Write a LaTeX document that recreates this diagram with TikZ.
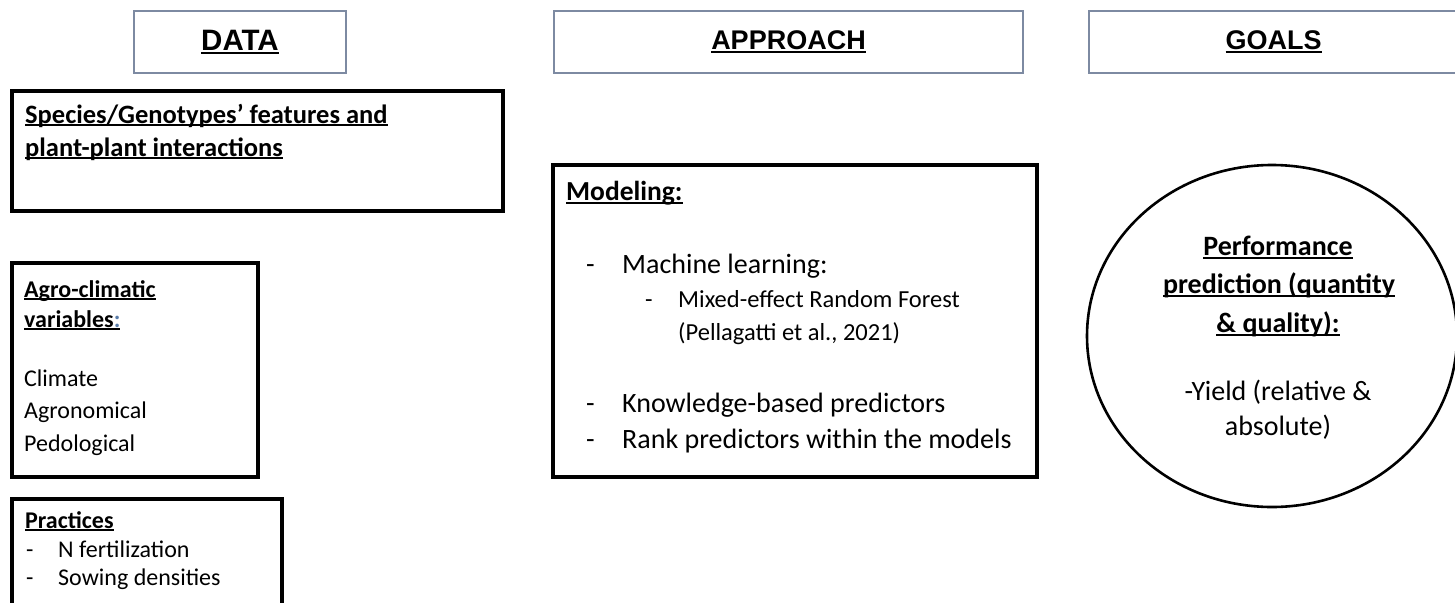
\documentclass[tikz,border=0pt]{standalone}
\usepackage{fontspec}
\setmainfont{Carlito}
\newfontfamily\hdrfont{Liberation Sans}
\usetikzlibrary{shapes.geometric}
\definecolor{hdrline}{RGB}{125,138,162}
\definecolor{colonblue}{RGB}{90,125,170}
\newcommand\ulin[1]{\setbox0\hbox{#1}\rlap{\rule[-0.13em]{\wd0}{0.075em}}\box0}
\tikzset{
  hdrbox/.style={draw=hdrline, line width=1.5pt, inner sep=0pt, font=\hdrfont\bfseries\fontsize{27}{32}\selectfont},
  thickbox/.style={draw=black, line width=3.8pt, inner sep=0pt},
  goalshape/.style={draw=black, line width=2.6pt, ellipse, inner sep=0pt},
  txt/.style={anchor=base west, inner sep=0pt, font=\fontsize{24}{30}\selectfont},
  btxt/.style={anchor=base west, inner sep=0pt, font=\bfseries\fontsize{24}{30}\selectfont},
  mtxt/.style={anchor=base west, inner sep=0pt, font=\fontsize{28}{34}\selectfont},
  stxt/.style={anchor=base west, inner sep=0pt, font=\fontsize{24.5}{30}\selectfont},
  gtxt/.style={anchor=base, inner sep=0pt, font=\fontsize{28}{34}\selectfont},
  gbtxt/.style={anchor=base, inner sep=0pt, font=\bfseries\fontsize{28}{34}\selectfont},
}
\begin{document}
\begin{tikzpicture}[x=1pt,y=-1pt]
\useasboundingbox (0,0) rectangle (1455,602);
% headers
\node[hdrbox, minimum width=212, minimum height=62, font=\hdrfont\bfseries\fontsize{29.5}{32}\selectfont] (data) at (240,42) {\ulin{DATA}};
\node[hdrbox, minimum width=469, minimum height=62] (approach) at (788.5,42) {\ulin{APPROACH}};
\node[hdrbox, minimum width=369, minimum height=62] (goals) at (1273.5,42) {\ulin{GOALS}};
% species box
\node[thickbox, minimum width=491, minimum height=120] (species) at (257.5,151) {};
\node[btxt, font=\bfseries\fontsize{26.5}{30}\selectfont] (sp1) at (25,123) {\ulin{Species/Genotypes’ features and}};
\node[btxt, font=\bfseries\fontsize{26.5}{30}\selectfont] (sp2) at (25,156) {\ulin{plant-plant interactions}};
% agro box
\node[thickbox, minimum width=246, minimum height=214] (agro) at (135,370) {};
\node[btxt] (ag1) at (24,297) {\ulin{Agro-climatic}};
\node[btxt] (ag2) at (24,327) {\ulin{variables}\ulin{\textcolor{colonblue}{:}}};
\node[txt] (ag3) at (24,386) {Climate};
\node[txt] (ag4) at (24,418) {Agronomical};
\node[txt] (ag5) at (24,451) {Pedological};
% practices box
\node[thickbox, minimum width=270, minimum height=120] (practices) at (147,559) {};
\node[btxt] (pr1) at (25,528) {\ulin{Practices}};
\node[txt] (pr2d) at (26,557) {-};
\node[txt] (pr2) at (58,557) {N fertilization};
\node[txt] (pr3d) at (26,585) {-};
\node[txt] (pr3) at (58,585) {Sowing densities};
% modeling box
\node[thickbox, minimum width=484, minimum height=312] (modeling) at (795,321) {};
\node[btxt, font=\bfseries\fontsize{27.5}{34}\selectfont] (mo0) at (566,200) {\ulin{Modeling:}};
\node[mtxt] (mo1d) at (586,273) {-};
\node[mtxt] (mo1) at (622,273) {Machine learning:};
\node[stxt] (mo2d) at (645,307) {-};
\node[stxt] (mo2) at (678,307) {Mixed-effect Random Forest};
\node[stxt] (mo3) at (678,340) {(Pellagatti et al., 2021)};
\node[mtxt] (mo4d) at (586,412) {-};
\node[mtxt] (mo4) at (622,412) {Knowledge-based predictors};
\node[mtxt] (mo5d) at (586,448) {-};
\node[mtxt] (mo5) at (622,448) {Rank predictors within the models};
% goal ellipse
\node[goalshape, minimum width=370, minimum height=342] (goal) at (1272,336) {};
\node[gbtxt] (go1) at (1278,255) {\ulin{Performance}};
\node[gbtxt] (go2) at (1279,293) {\ulin{prediction (quantity}};
\node[gbtxt] (go3) at (1278,332) {\ulin{\& quality):}};
\node[gtxt] (go4) at (1278,400) {-Yield (relative \&};
\node[gtxt] (go5) at (1278,435) {absolute)};
\end{tikzpicture}
\end{document}
